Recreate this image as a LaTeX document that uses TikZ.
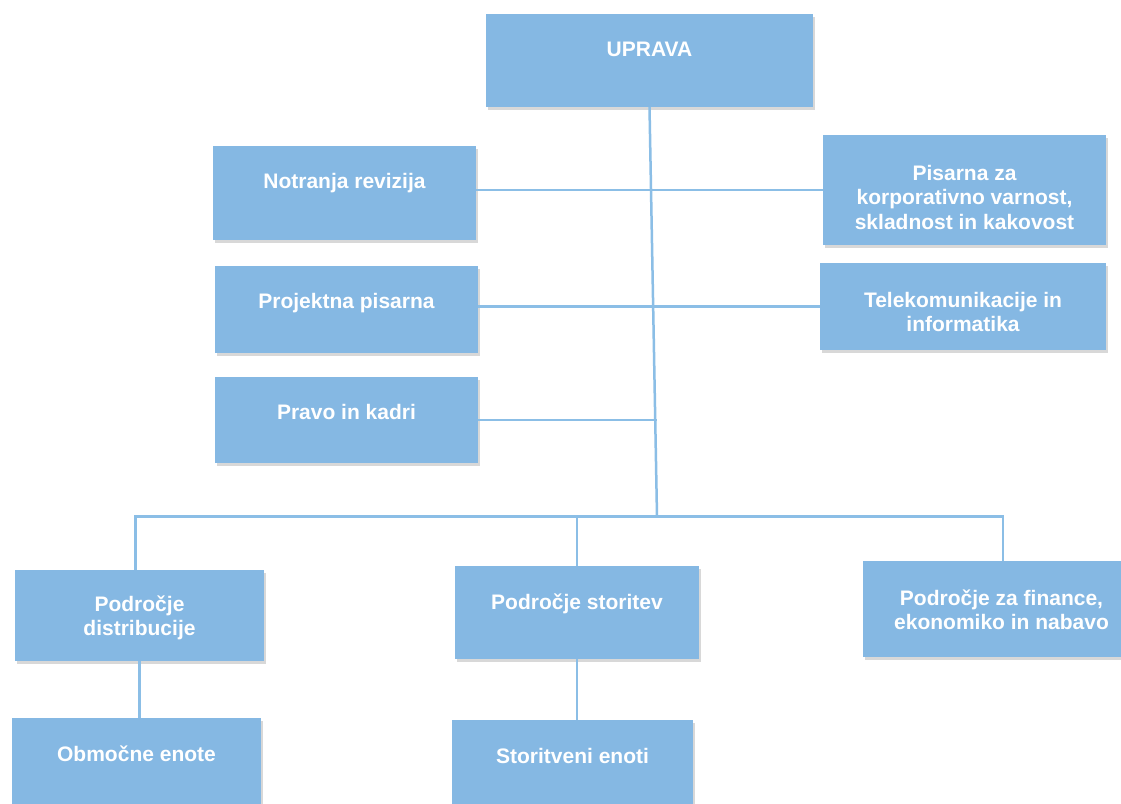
\documentclass[tikz,border=0pt]{standalone}
\usepackage{fontspec}
\setmainfont{Liberation Sans}
\usetikzlibrary{shadows}

\definecolor{boxblue}{RGB}{133,184,227}
\definecolor{lineblue}{RGB}{139,190,230}

\begin{document}
\begin{tikzpicture}[x=1pt,y=-1pt,
  box/.style={rectangle, fill=boxblue, inner sep=0pt,
    drop shadow={shadow xshift=1.5pt, shadow yshift=-3pt, opacity=0.3}},
  boxtext/.style={text=white, inner sep=0pt, align=center,
    font=\bfseries\fontsize{21}{24.5}\selectfont},
  link/.style={draw=lineblue, line width=2.5pt}]
  \clip (0,0) rectangle (1121,803);
  \fill[white] (0,0) rectangle (1121,803);

  % boxes
  \node[box, minimum width=327pt, minimum height=93pt] (uprava) at (649.5,60.5) {};
  \node[box, minimum width=263pt, minimum height=94pt] (notranja) at (344.5,193) {};
  \node[box, minimum width=283pt, minimum height=110pt] (pisarna) at (964.5,190) {};
  \node[box, minimum width=263pt, minimum height=87pt] (projektna) at (346.5,309.5) {};
  \node[box, minimum width=286pt, minimum height=87pt] (telekom) at (963,306.5) {};
  \node[box, minimum width=263pt, minimum height=86pt] (pravo) at (346.5,420) {};
  \node[box, minimum width=249pt, minimum height=91pt] (distrib) at (139.5,615.5) {};
  \node[box, minimum width=244pt, minimum height=93pt] (storitev) at (577,612.5) {};
  \node[box, minimum width=277pt, minimum height=96pt] (finance) at (1001.5,609) {};
  \node[box, minimum width=249pt, minimum height=92pt] (obmocne) at (136.5,764) {};
  \node[box, minimum width=241pt, minimum height=92pt] (storitveni) at (572.5,766) {};

  % texts
  \node[boxtext] (uprava-t) at (649.5,49) {UPRAVA};
  \node[boxtext] (notranja-t) at (344.5,183) {Notranja revizija};
  \node[boxtext] (pisarna-t) at (964.5,197) {Pisarna za\\korporativno varnost,\\skladnost in kakovost};
  \node[boxtext] (projektna-t) at (346.5,303) {Projektna pisarna};
  \node[boxtext] (telekom-t) at (963,312) {Telekomunikacije in\\informatika};
  \node[boxtext] (pravo-t) at (346.5,412) {Pravo in kadri};
  \node[boxtext] (distrib-t) at (139.5,618) {Področje\\distribucije};
  \node[boxtext] (storitev-t) at (577,604) {Področje storitev};
  \node[boxtext] (finance-t) at (1001.5,610) {Področje za finance,\\ekonomiko in nabavo};
  \node[boxtext] (obmocne-t) at (136.5,754) {Območne enote};
  \node[boxtext] (storitveni-t) at (572.5,756) {Storitveni enoti};

  % connectors
  \coordinate (hub) at (657,516.5);
  \coordinate (busL) at (135.5,516.5);
  \coordinate (busR) at (1003,516.5);
  \draw[link] (uprava.south) -- (hub);
  \draw[link] (notranja.east |- pisarna.west) -- (pisarna.west);
  \draw[link] (projektna.east |- telekom.west) -- (telekom.west);
  \draw[link] (pravo.east) -- (pravo.east -| hub);
  \draw[link] (distrib.north -| busL) -- (busL) -- (busR) -- (finance.north -| busR);
  \draw[link] (storitev.north) -- (storitev.north |- hub);
  \draw[link] (distrib.south) -- (distrib.south |- obmocne.north);
  \draw[link] (storitev.south) -- (storitev.south |- storitveni.north);
\end{tikzpicture}
\end{document}
